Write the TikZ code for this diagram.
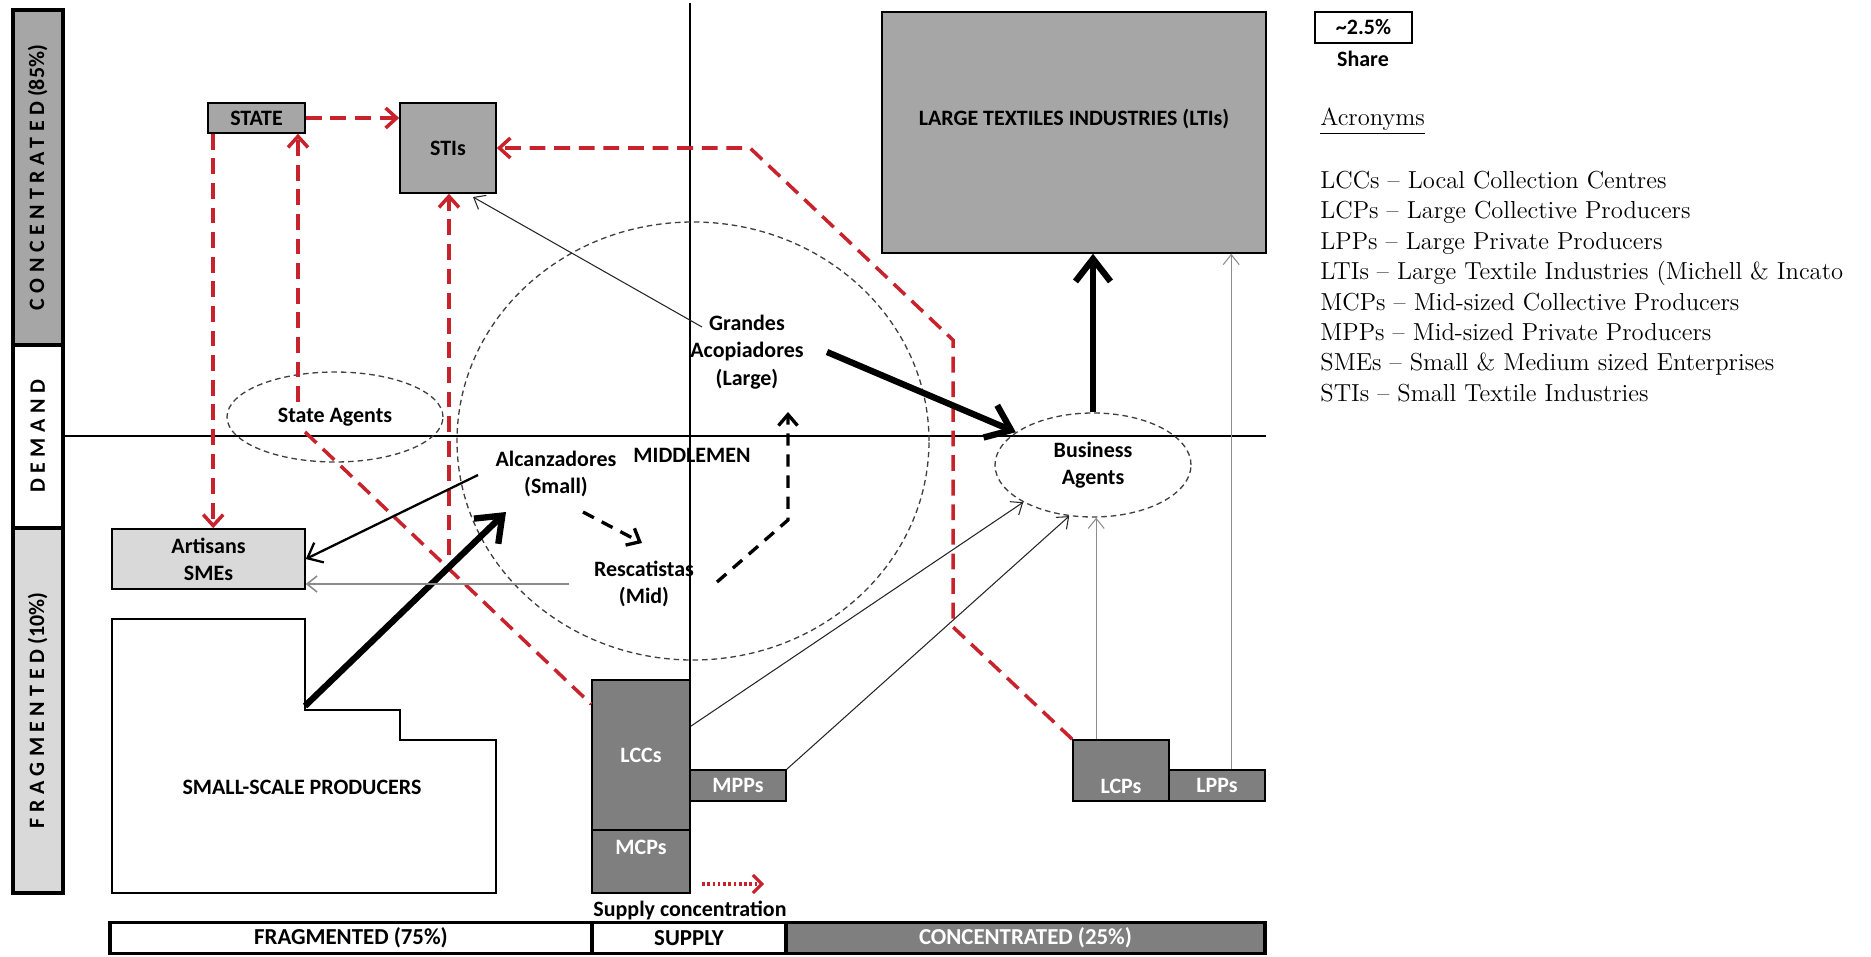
\documentclass[tikz,border=0pt]{standalone}
\usepackage{fontspec}
\usetikzlibrary{arrows.meta,calc,shapes.geometric}
\newfontfamily\carl{Carlito}
\newcommand\lblf{\carl\bfseries\fontsize{12.5}{15.5}\selectfont}
\newcommand\sidef{\carl\bfseries\fontsize{12.5}{14}\selectfont}
\newcommand\pxu{*0.02cm}
\definecolor{gmid}{HTML}{A6A6A6}
\definecolor{gdark}{HTML}{7F7F7F}
\definecolor{glight}{HTML}{D9D9D9}
\definecolor{redc}{RGB}{200,35,45}
\begin{document}
\begin{tikzpicture}[x=0.02cm,y=-0.02cm,
  lbl/.style={font=\lblf, align=center, inner sep=0pt},
  box/.style={draw=black, line width=0.9pt, inner sep=0pt, font=\lblf, align=center},
  gbox/.style={box, fill=gmid},
  dbox/.style={box, fill=gdark, text=white},
  lbox/.style={box, fill=glight},
  sidebox/.style={draw=black, line width=2.2pt, inner sep=0pt, minimum width=50\pxu},
  basebox/.style={draw=black, line width=2pt, inner sep=0pt, minimum height=31\pxu, font=\carl\bfseries\fontsize{13}{15}\selectfont},
  dell/.style={ellipse, draw=black!75, line width=0.75pt, dash pattern=on 3.2pt off 2.2pt, inner sep=0pt, font=\lblf, align=center},
  rline/.style={draw=redc, line width=2pt, dash pattern=on 9pt off 5pt},
  rarr/.style={rline, -{Straight Barb[length=2.2mm,width=4mm]}},
  rdot/.style={draw=redc, line width=1.8pt, dash pattern=on 1.5pt off 1.5pt, -{Straight Barb[length=1.8mm,width=3.6mm]}},
  thinarr/.style={draw=black!85, line width=0.6pt, -{Straight Barb[length=2mm,width=3.2mm]}},
  grayarr/.style={draw=black!45, line width=0.9pt, -{Straight Barb[length=2mm,width=3.2mm]}},
  medarr/.style={draw=black, line width=1.3pt, -{Straight Barb[length=2.6mm,width=4.4mm]}},
  thickarr/.style={draw=black, line width=3.6pt, -{Straight Barb[length=4.5mm,width=7mm]}},
  bdash/.style={draw=black, line width=1.9pt, dash pattern=on 7pt off 5pt, -{Straight Barb[length=2.2mm,width=3.8mm]}},
  legf/.style={font=\fontsize{14}{17}\selectfont, inner sep=0pt, anchor=base west}
]
\useasboundingbox (0,0) rectangle (1871,956);

% axes
\draw[line width=0.6pt] (63,436) -- (1266,436);
\draw[line width=0.6pt] (690,3) -- (690,680);

% left bar
\node[sidebox, fill=gmid, minimum height=335\pxu] (sconc) at (37.75,177.5)
  {\rotatebox{90}{\sidef{\addfontfeature{LetterSpace=25}CONCENTRATED}\ (85\%)}};
\node[sidebox, fill=white, minimum height=183\pxu] (sdem) at (37.75,436.5)
  {\rotatebox{90}{\sidef\addfontfeature{LetterSpace=25}DEMAND}};
\node[sidebox, fill=glight, minimum height=365\pxu] (sfrag) at (37.75,710.5)
  {\rotatebox{90}{\sidef{\addfontfeature{LetterSpace=25}FRAGMENTED}\ (10\%)}};

% bottom bar
\node[basebox, fill=white, minimum width=482\pxu] (bfrag) at (351,938) {FRAGMENTED (75\%)};
\node[basebox, fill=white, minimum width=194\pxu] (bsup) at (689,938) {SUPPLY};
\node[basebox, fill=gdark, text=white, minimum width=479\pxu] (bconc) at (1025.5,938) {CONCENTRATED (25\%)};

% dashed ellipses
\node[dell, minimum width=472\pxu, minimum height=438\pxu] (mid) at (693,441) {};
\node[dell, minimum width=216\pxu, minimum height=90\pxu] (statag) at (335,417) {State Agents};
\node[dell, minimum width=196\pxu, minimum height=104\pxu] (ba) at (1093,465) {Business\\Agents};

% boxes
\node[gbox, minimum width=97\pxu, minimum height=30\pxu] (state) at (256.5,118) {STATE};
\node[gbox, minimum width=96\pxu, minimum height=90\pxu] (stis) at (448,148) {STIs};
\node[gbox, minimum width=384\pxu, minimum height=241\pxu,
  label={[lbl, yshift=13.5\pxu]center:LARGE TEXTILES INDUSTRIES (LTIs)}] (lti) at (1074,132.5) {};
\node[lbox, minimum width=193\pxu, minimum height=60\pxu] (artisans) at (208.5,559) {Artisans\\SMEs};
\node[dbox, minimum width=98\pxu, minimum height=150\pxu] (lccs) at (641,755) {LCCs};
\node[dbox, minimum width=98\pxu, minimum height=63\pxu,
  label={[lbl, text=white, yshift=14\pxu]center:MCPs}] (mcps) at (641,861.5) {};
\node[dbox, minimum width=96\pxu, minimum height=31\pxu] (mpps) at (738,785.5) {MPPs};
\node[dbox, minimum width=96\pxu, minimum height=61\pxu,
  label={[lbl, text=white, yshift=-16\pxu]center:LCPs}] (lcps) at (1121,770.5) {};
\node[dbox, minimum width=96\pxu, minimum height=31\pxu] (lpps) at (1217,785.5) {LPPs};

% small-scale producers
\draw[line width=0.9pt] (112,619) -- (305,619) -- (305,710) -- (400,710) -- (400,740)
  -- (496,740) -- (496,893) -- (112,893) -- cycle;
\node[lbl] (ssp) at (302,787) {SMALL-SCALE PRODUCERS};

% middlemen labels
\node[lbl] (alcan) at (556,474) {Alcanzadores\\(Small)};
\node[lbl] (resc) at (644,584) {Rescatistas\\(Mid)};
\node[lbl] (grandes) at (747,352) {Grandes\\Acopiadores\\(Large)};
\node[lbl] (midmen) at (692,455) {MIDDLEMEN};

% legend
\node[draw=black, line width=1pt, minimum width=97\pxu, minimum height=31\pxu, inner sep=0pt,
  font=\lblf] (sharebox) at (1363.5,27.5) {\textasciitilde2.5\%};
\node[lbl] (share) at (1363,59) {Share};
\node[legf] (acr) at (1320,126) {\underline{Acronyms}};
\node[legf] (l1) at (1320,188.4) {LCCs \textendash{} Local Collection Centres};
\node[legf] (l2) at (1320,218.8) {LCPs \textendash{} Large Collective Producers};
\node[legf] (l3) at (1320,249.2) {LPPs \textendash{} Large Private Producers};
\node[legf] (l4) at (1320,279.6) {LTIs \textendash{} Large Textile Industries (Michell \& Incato};
\node[legf] (l5) at (1320,310.0) {MCPs \textendash{} Mid-sized Collective Producers};
\node[legf] (l6) at (1320,340.4) {MPPs \textendash{} Mid-sized Private Producers};
\node[legf] (l7) at (1320,370.8) {SMEs \textendash{} Small \& Medium sized Enterprises};
\node[legf] (l8) at (1320,401.2) {STIs \textendash{} Small Textile Industries};

% coordinates for free ends
\coordinate (stA) at ($(state.south west)+(6,0)$);
\coordinate (saTop) at (298,402);
\coordinate (saDiag) at (305,432);
\coordinate (lccDiag) at ($(lccs.north west)+(0,25)$);
\coordinate (stiSrc) at (449,555);
\coordinate (rc1) at (953,627);
\coordinate (rc2) at (953,340);
\coordinate (rc3) at (750,148);
\coordinate (sspc) at (305,706);
\coordinate (alcTip) at (506,512);
\coordinate (alcSrc) at (478,475);
\coordinate (rescSrc) at (569,584);
\coordinate (alcD) at (583,512);
\coordinate (rescD) at (642,543);
\coordinate (rescU) at (717,582);
\coordinate (bend) at (788,520);
\coordinate (grTip) at (788,412);
\coordinate (grSrc) at (702,327);
\coordinate (stiTip) at (473,197);
\coordinate (grSrc2) at (827,352);
\coordinate (lccSrc) at ($(lccs.north east)+(0,47)$);
\coordinate (lcpSrc) at ($(lcps.north west)+(24,0)$);
\coordinate (lppSrc) at ($(lpps.north west)+(63,0)$);
\coordinate (supA) at (702,884);
\coordinate (supB) at (764,884);
\node[lbl] (suptxt) at (690,910) {Supply concentration};

% red dashed flows
\draw[rarr] (state.east) -- (stis.west |- state.east);
\draw[rarr] (stA) -- (stA |- artisans.north);
\draw[rarr] (saTop) -- (saTop |- state.south);
\draw[rline] (saDiag) -- (lccDiag);
\draw[rarr] (stiSrc) -- (stiSrc |- stis.south);
\draw[rarr] (lcps.north west) -- (rc1) -- (rc2) -- (rc3) -- (stis.east);
\draw[rdot] (supA) -- (supB);

% black flows
\draw[thickarr] (sspc) -- (alcTip);
\draw[medarr] (alcSrc) -- (artisans.east);
\draw[grayarr] (rescSrc) -- (rescSrc -| artisans.east);
\draw[bdash] (alcD) -- (rescD);
\draw[bdash] (rescU) -- (bend) -- (grTip);
\draw[thinarr] (grSrc) -- (stiTip);
\draw[thickarr] (grSrc2) -- (ba);
\draw[thickarr] (ba.north) -- (ba.north |- lti.south);
\draw[thinarr] (lccSrc) -- (ba.south west);
\draw[thinarr] (mpps.north east) -- (ba.245);
\draw[grayarr, line width=0.6pt] (lcpSrc) -- (lcpSrc |- ba.south);
\draw[grayarr, line width=0.6pt] (lppSrc) -- (lppSrc |- lti.south);
\end{tikzpicture}
\end{document}
